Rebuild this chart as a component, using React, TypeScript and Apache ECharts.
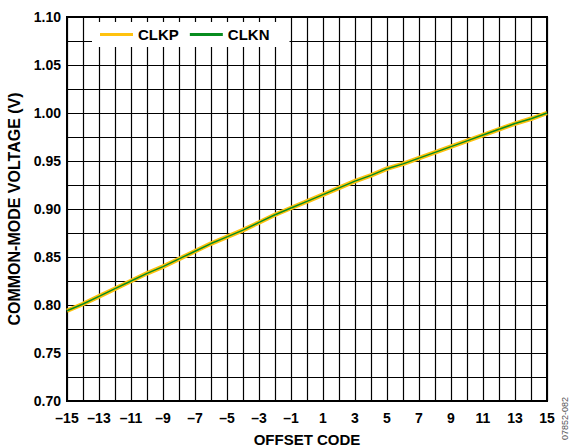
import React, { useEffect, useRef } from "react";
import * as echarts from "echarts";

const codes = [-15, -14, -13, -12, -11, -10, -9, -8, -7, -6, -5, -4, -3, -2, -1, 0, 1, 2, 3, 4, 5, 6, 7, 8, 9, 10, 11, 12, 13, 14, 15];
const clkp = [0.794, 0.801, 0.809, 0.817, 0.825, 0.833, 0.840, 0.848, 0.856, 0.864, 0.871, 0.878, 0.886, 0.894, 0.901, 0.908, 0.915, 0.922, 0.929, 0.935, 0.942, 0.947, 0.953, 0.959, 0.965, 0.971, 0.977, 0.983, 0.989, 0.994, 1.000];
const clkn = [0.794, 0.801, 0.809, 0.817, 0.825, 0.833, 0.840, 0.848, 0.856, 0.864, 0.871, 0.878, 0.886, 0.894, 0.901, 0.908, 0.915, 0.922, 0.929, 0.935, 0.942, 0.947, 0.953, 0.959, 0.965, 0.971, 0.977, 0.983, 0.989, 0.994, 1.000];
const seriesNames = ["CLKP", "CLKN"];
const xTitle = "OFFSET CODE";
const yTitle = "COMMON-MODE VOLTAGE (V)";
const figureId = "07852-082";

const FONT = "'Liberation Sans', Arial, sans-serif";

export default function App() {
  const ref = useRef<HTMLDivElement>(null);
  useEffect(() => {
    if (!ref.current) return;
    const chart = echarts.init(ref.current, null, { renderer: "svg" });
    chart.setOption({
      animation: false,
      backgroundColor: "#fff",
      grid: {
        left: 67, right: 25, top: 17, bottom: 47,
        show: true, borderColor: "#000", borderWidth: 2,
        containLabel: false, outerBoundsMode: "none",
      },
      legend: {
        data: seriesNames,
        left: 92,
        top: 22,
        padding: [5, 20, 5, 8],
        backgroundColor: "#fff",
        icon: "rect",
        itemWidth: 33,
        itemHeight: 3,
        itemGap: 11,
        textStyle: { fontFamily: FONT, fontWeight: "bold", fontSize: 15, color: "#000" },
      },
      xAxis: {
        type: "value",
        min: -15,
        max: 15,
        interval: 1,
        axisLine: { show: true, onZero: false, lineStyle: { color: "#000", width: 2 } },
        axisTick: { show: false },
        splitLine: { show: true, lineStyle: { color: "#000", width: 1.2 } },
        axisLabel: {
          fontFamily: FONT,
          fontWeight: "bold",
          fontSize: 14,
          color: "#000",
          margin: 10,
          formatter: (v: number) => {
            const r = Math.round(v);
            if (Math.abs(r) % 2 !== 1) return "";
            return r < 0 ? "\u2013" + Math.abs(r) : String(r);
          },
        },
        name: xTitle,
        nameLocation: "middle",
        nameGap: 31,
        nameTextStyle: { fontFamily: FONT, fontWeight: "bold", fontSize: 15, color: "#000" },
      },
      yAxis: {
        type: "value",
        min: 0.7,
        max: 1.1,
        interval: 0.025,
        axisLine: { show: true, onZero: false, lineStyle: { color: "#000", width: 2 } },
        axisTick: { show: false },
        splitLine: { show: true, lineStyle: { color: "#000", width: 1.2 } },
        axisLabel: {
          fontFamily: FONT,
          fontWeight: "bold",
          fontSize: 14,
          color: "#000",
          margin: 6,
          formatter: (v: number) => (Math.round(v * 1000) % 50 === 0 ? v.toFixed(2) : ""),
        },
        name: yTitle,
        nameLocation: "middle",
        nameGap: 42,
        nameTextStyle: { fontFamily: FONT, fontWeight: "bold", fontSize: 16, color: "#000" },
      },
      series: [
        {
          name: seriesNames[0],
          type: "line",
          data: codes.map((c, i) => [c, clkp[i]]),
          showSymbol: false,
          symbol: "none",
          lineStyle: { color: "#FFC20E", width: 4.5 },
          itemStyle: { color: "#FFC20E" },
          z: 3,
        },
        {
          name: seriesNames[1],
          type: "line",
          data: codes.map((c, i) => [c, clkn[i]]),
          showSymbol: false,
          symbol: "none",
          lineStyle: { color: "#078C1F", width: 1.5 },
          itemStyle: { color: "#078C1F" },
          z: 4,
        },
      ],
      graphic: [
        {
          type: "text",
          x: 565,
          y: 440,
          rotation: Math.PI / 2,
          style: { text: figureId, fontSize: 9, fontFamily: FONT, fill: "#555", align: "left", verticalAlign: "middle" },
        },
      ],
    });
    return () => chart.dispose();
  }, []);
  return <div ref={ref} style={{ position: "fixed", left: 0, top: 0, width: 572, height: 448 }} />;
}
